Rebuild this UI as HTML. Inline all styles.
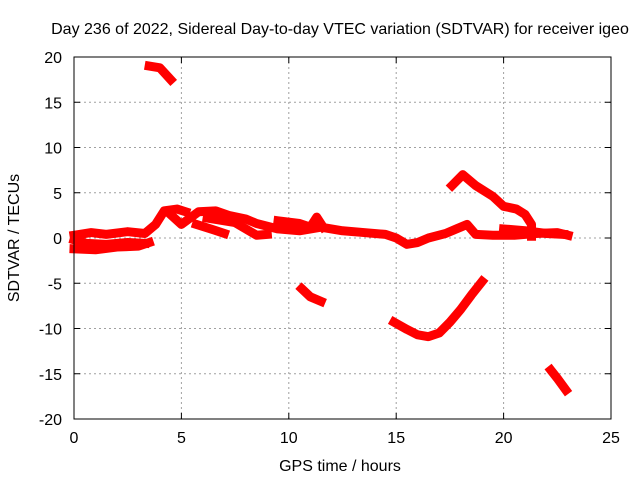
<!DOCTYPE html>
<html><head><meta charset="utf-8"><style>
body{margin:0;background:#fff}
svg{display:block;font-family:"Liberation Sans",sans-serif;font-size:16px}
</style></head><body>
<svg id="chart" width="640" height="480">
<text x="340" y="34" text-anchor="middle">Day 236 of 2022, Sidereal Day-to-day VTEC variation (SDTVAR) for receiver igeo</text>
<g id="grid"></g><g id="ticks"></g><g id="series"></g>
<rect x="74" y="57" width="537" height="362" fill="none" stroke="#000" stroke-width="1"/>
<text x="340" y="471" text-anchor="middle">GPS time / hours</text>
<text transform="translate(19,238) rotate(-90)" text-anchor="middle">SDTVAR / TECUs</text>
</svg>
<script>
const xTicks=[0,5,10,15,20,25];
const yTicks=[-20,-15,-10,-5,0,5,10,15,20];
const arcTop=[[3.5,19],[4,18.8],[4.5,17.5]];
const arcLow1=[[0,-1.2],[1,-1.3],[2,-1],[3,-0.9],[3.5,-0.5]];
const arcLow2=[[0,-0.2],[0.6,-0.6],[1.5,-0.7],[2.5,-0.5],[3.3,-0.6]];
const arcUp=[[0,0.3],[0.8,0.6],[1.5,0.4],[2.5,0.7],[3.3,0.5],[3.8,1.5],[4.2,3],[4.8,3.2],[5.2,2.9]];
const arcMain=[[4.4,2.8],[5,1.5],[5.8,2.9],[6.6,3.0],[7.2,2.5],[8,2.1],[8.5,1.6],[9.5,1],[10.5,0.8],[11.5,1.2],[12.5,0.8],[13.5,0.6],[14.5,0.4],[15,0],[15.5,-0.7],[16,-0.5],[16.5,0],[17.3,0.5],[17.8,1],[18.3,1.5],[18.7,0.4],[19.5,0.3],[20.5,0.3],[21.5,0.5],[22.5,0.6],[23,0.3]];
const arcE=[[5.7,1.5],[6.5,0.9],[7,0.5]];
const arcF=[[6.2,2.2],[7.5,1.7],[8.5,0.3],[9,0.4]];
const arcG=[[9.5,1.9],[10.5,1.6],[11,1.2],[11.3,2.3],[11.6,1.2]];
const arcH=[[17.6,5.8],[18.1,7.0],[18.7,5.8],[19.5,4.6],[20,3.5],[20.6,3.2],[21,2.6],[21.3,1.5],[21.3,0.2]];
const arcI=[[20,1],[21,0.8],[22,0.5],[22.8,0.4]];
const arcNeg1=[[10.6,-5.6],[11,-6.5],[11.5,-7]];
const arcNeg2=[[14.9,-9.3],[15.5,-10.1],[16,-10.7],[16.5,-10.9],[17,-10.5],[17.5,-9.3],[18,-7.9],[18.5,-6.3],[19,-4.8]];
const arcNeg3=[[22.2,-14.6],[22.5,-15.5],[22.9,-16.8]];
const arcs=[arcTop,arcLow1,arcLow2,arcUp,arcMain,arcE,arcF,arcG,arcH,arcI,arcNeg1,arcNeg2,arcNeg3];
const X0=74,X1=611,Y0=419,Y1=57;
function sx(v){return X0+(v-0)/25*(X1-X0);}
function sy(v){return Y0-(v+20)/40*(Y0-Y1);}
const NS='http://www.w3.org/2000/svg';
const grid=document.getElementById('grid'),ticks=document.getElementById('ticks'),ser=document.getElementById('series');
function mk(tag,attrs,parent){const e=document.createElementNS(NS,tag);for(const k in attrs)e.setAttribute(k,attrs[k]);parent.appendChild(e);return e;}
xTicks.forEach(t=>{const x=sx(t);
 if(t>0&&t<25){const g=mk('line',{x1:x,x2:x,y1:Y1,y2:Y0,stroke:'#a0a0a0','stroke-dasharray':'2,3'},grid);
 
 }
 mk('line',{x1:x,x2:x,y1:Y0,y2:Y0-6,stroke:'#000'},ticks);mk('line',{x1:x,x2:x,y1:Y1,y2:Y1+6,stroke:'#000'},ticks);
 const l=mk('text',{x:x,y:443,'text-anchor':'middle'},ticks);l.textContent=t;
 
 });
yTicks.forEach(t=>{const y=sy(t);
 if(t>-20&&t<20){const g=mk('line',{x1:X0,x2:X1,y1:y,y2:y,stroke:'#a0a0a0','stroke-dasharray':'2,3'},grid);
 
 }
 mk('line',{x1:X0,x2:X0+6,y1:y,y2:y,stroke:'#000'},ticks);mk('line',{x1:X1,x2:X1-6,y1:y,y2:y,stroke:'#000'},ticks);
 const l=mk('text',{x:62,y:y+6,'text-anchor':'end'},ticks);l.textContent=t;
 
 });
arcs.forEach(a=>{const p=mk('polyline',{points:a.map(d=>sx(d[0])+','+sy(d[1])).join(' '),fill:'none',stroke:'#ff0000','stroke-width':9,'stroke-linejoin':'round','stroke-linecap':'square'},ser);
 
 });
</script>
</body></html>
